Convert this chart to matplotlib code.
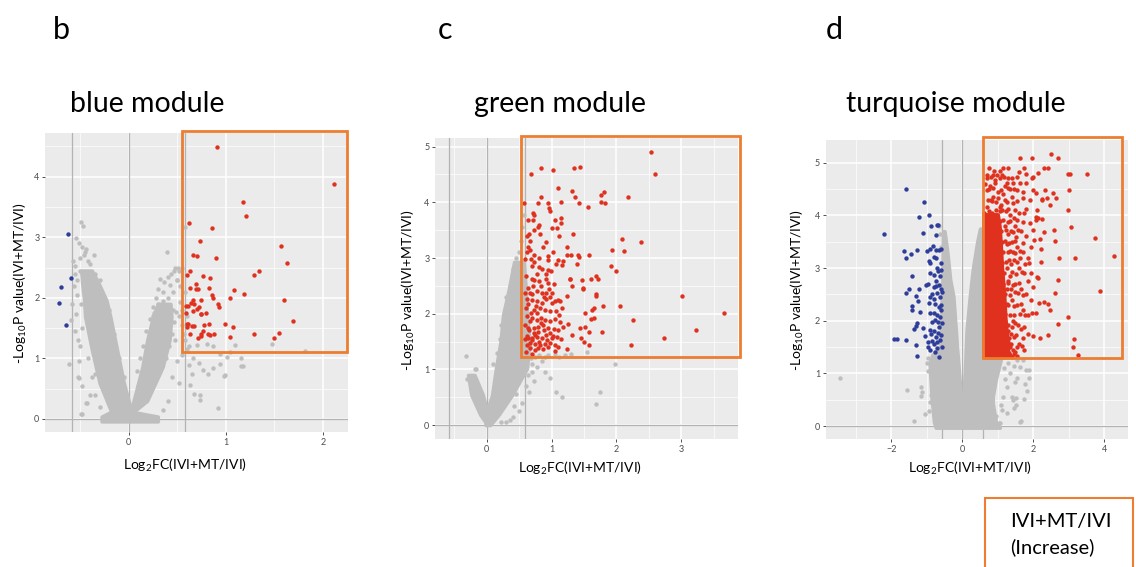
import matplotlib.pyplot as plt
from matplotlib.patches import Rectangle
import numpy as np

plt.rcParams['font.family'] = ['Lato', 'DejaVu Sans']
plt.rcParams['mathtext.fontset'] = 'custom'
plt.rcParams['mathtext.rm'] = 'Lato'

GREY = '#BEBEBE'
RED = '#E0301E'
BLUE = '#2E3D9A'
ORANGE = '#ED7D31'

# ---------------- panel b: blue module ----------------
b_red_x = [0.91, 2.12, 1.18, 1.21, 0.625, 0.855, 0.73, 1.57, 0.66, 0.70, 0.90, 1.63, 1.34, 0.63,
           1.29, 0.60, 0.77, 0.835, 0.63, 0.69, 0.69, 0.71, 0.83, 1.08, 1.19, 0.855, 0.87, 1.04,
           0.66, 0.74, 1.60, 0.92, 0.93, 0.59, 0.61, 0.67, 0.64, 0.72, 0.70, 0.66, 0.59, 0.74, 0.75,
           0.80, 1.69, 0.60, 0.61, 0.83, 0.78, 0.99, 0.65, 0.67, 0.60, 1.07, 0.77, 0.75, 0.75, 0.63,
           0.82, 0.84, 0.88, 0.71, 1.04, 1.29, 1.55, 1.50]
b_red_y = [4.49, 3.87, 3.58, 3.35, 3.23, 3.15, 2.93, 2.85, 2.71, 2.69, 2.65, 2.58, 2.44, 2.44,
           2.37, 2.37, 2.36, 2.32, 2.16, 2.22, 2.15, 2.14, 2.16, 2.13, 2.07, 2.04, 2.00, 2.00,
           1.97, 1.97, 1.96, 1.89, 1.84, 1.86, 1.87, 1.89, 1.91, 1.84, 1.81, 1.78, 1.75, 1.74, 1.74,
           1.75, 1.61, 1.57, 1.57, 1.56, 1.55, 1.56, 1.53, 1.53, 1.52, 1.52, 1.45, 1.41, 1.37, 1.41,
           1.41, 1.39, 1.41, 1.34, 1.36, 1.40, 1.42, 1.34]
b_blue_x = [-0.63, -0.59, -0.70, -0.72, -0.65]
b_blue_y = [3.05, 2.33, 2.17, 1.91, 1.55]
b_grey_x = [-0.49, -0.47, -0.54, -0.51, -0.48, -0.57, -0.55, -0.59, -0.62, -0.49, -0.44, -0.35,
            -0.51, -0.48, -0.43, -0.51, -0.52, -0.54, -0.46, -0.42, -0.50, -0.56, -0.53, -0.45,
            -0.58, -0.55, -0.50, -0.48, -0.40, -0.36, -0.40, -0.44, -0.50, -0.55, -0.53, -0.35,
            -0.30, -0.25, -0.20, -0.15, -0.10, -0.05, -0.48, -0.42, -0.38, -0.35, -0.30, -0.52,
            -0.49, -0.45,
            0.39, 0.48, 0.51, 0.55, 0.32, 0.36, 0.43, 0.46, 0.58, 0.58, 0.53, 0.49, 0.55, 0.70,
            0.81, 0.87, 0.94, 1.01, 1.10, 1.04, 1.16, 1.16, 1.48, 1.82, 0.72, 0.77, 0.82, 0.87,
            0.94, 0.62, 0.65, 0.63, 0.67, 0.73, 0.99, 0.92, 1.18, 0.98, 0.73, 0.58, 0.60, 0.55,
            0.50, 0.45, 0.52, 0.40, 0.35, 0.30, 0.25, 0.35, 0.42, 0.50, 0.60, 0.57, 0.62, 0.66,
            0.48, 0.44, 0.10, 0.20, 0.30, 0.38, 0.42, 0.45, 0.47, 0.46, 0.40, 0.35, 0.28, 0.25,
            0.22, 0.18, 0.15, 0.12, 0.09, 0.40, 0.44, 0.47, 0.52, 0.50, 0.53, 0.52, 0.55, 0.33,
            0.26, 0.38, 0.30]
b_grey_y = [3.25, 3.18, 2.99, 2.90, 2.84, 2.60, 2.52, 1.63, 0.90, 0.09, 0.26, 0.75,
            0.95, 0.09, 0.26, 0.67, 0.70, 1.74, 2.70, 2.60, 2.45, 2.20, 2.05, 2.75,
            1.90, 1.45, 1.20, 0.55, 0.40, 2.70, 2.55, 2.80, 2.65, 2.40, 2.30, 2.40,
            2.30, 2.00, 1.80, 1.40, 1.00, 0.70, 1.50, 1.00, 0.70, 0.40, 0.20, 1.30,
            1.90, 2.10,
            2.76, 2.49, 2.50, 2.49, 2.31, 2.26, 2.21, 2.10, 3.17, 2.10, 1.93, 1.77, 1.55, 1.22,
            1.24, 1.21, 1.08, 1.03, 1.22, 1.11, 1.00, 0.88, 1.23, 1.12, 0.93, 0.81, 0.75, 0.84,
            0.90, 0.89, 0.75, 0.56, 0.42, 0.31, 0.72, 0.18, 0.87, 0.71, 0.40, 1.30, 1.15, 1.05,
            0.95, 0.70, 0.60, 0.30, 0.15, 1.90, 1.70, 1.95, 1.85, 2.30, 1.70, 1.40, 1.20, 1.00,
            1.30, 1.60, 0.55, 0.70, 0.85, 1.00, 1.20, 1.40, 1.60, 1.80, 2.00, 2.10, 2.00, 1.85,
            1.65, 1.45, 1.20, 1.00, 0.80, 2.35, 2.40, 2.45, 2.45, 2.30, 2.20, 1.70, 1.80, 1.60,
            1.75, 1.25, 2.15]
# dense cloud outlines (y level, left edge, right edge)
b_arm1_y = [-0.04, 0.04, 0.12, 0.59, 1.14, 1.69, 1.96, 2.24, 2.45]
b_arm1_l = [-0.28, -0.28, -0.18, -0.30, -0.38, -0.45, -0.46, -0.48, -0.49]
b_arm1_r = [0.30, 0.30, 0.03, -0.05, -0.12, -0.19, -0.23, -0.31, -0.38]
b_arm2_y = [0.12, 0.30, 0.86, 1.30, 1.69, 1.90]
b_arm2_l = [0.02, 0.05, 0.14, 0.19, 0.25, 0.30]
b_arm2_r = [0.05, 0.19, 0.35, 0.42, 0.44, 0.43]

# ---------------- panel c: green module ----------------
c_red = [(2.53, 4.90), (2.59, 4.50), (0.84, 4.62), (1.02, 4.58), (1.34, 4.62), (1.43, 4.64),
         (0.68, 4.50), (1.10, 4.25), (1.32, 4.20), (0.83, 4.10), (1.81, 4.19), (1.76, 4.13),
         (2.18, 4.09), (1.36, 4.09), (0.58, 3.98), (0.79, 3.99), (0.94, 3.98), (1.15, 4.00),
         (1.42, 3.98), (1.76, 4.00), (1.83, 3.98), (1.56, 3.92), (0.96, 3.90), (0.98, 3.84),
         (0.71, 3.80), (0.73, 3.77), (0.64, 3.69), (0.71, 3.69), (1.05, 3.69), (1.15, 3.71),
         (1.15, 3.63), (1.09, 3.54), (0.81, 3.59), (0.79, 3.55), (1.01, 3.54), (0.65, 3.43),
         (0.62, 3.40), (0.82, 3.44), (1.11, 3.39), (1.33, 3.44), (2.08, 3.34), (2.38, 3.28),
         (0.91, 3.28), (0.63, 3.19), (0.67, 3.14), (0.62, 3.11), (1.23, 3.20), (1.93, 3.14),
         (2.11, 3.12), (1.58, 3.06), (1.40, 3.06), (1.42, 3.01), (0.59, 2.99), (0.68, 2.99),
         (0.73, 3.06), (0.73, 2.93), (0.95, 3.04), (0.94, 2.96), (1.06, 2.90), (1.18, 2.94),
         (1.16, 2.87), (1.10, 2.96), (1.30, 3.05), (1.24, 3.05), (1.39, 2.89), (1.92, 2.86),
         (1.99, 2.77), (0.80, 2.84), (0.85, 2.80), (0.95, 2.78), (0.99, 2.77), (0.69, 2.62),
         (0.73, 2.60), (0.80, 2.59), (0.78, 2.71), (0.91, 2.71), (0.92, 2.63), (1.03, 2.53),
         (0.94, 2.56), (1.28, 2.62), (1.29, 2.63), (1.47, 2.60), (1.49, 2.45), (1.48, 2.47),
         (1.60, 2.62), (1.69, 2.67), (1.72, 2.63), (1.32, 2.49), (1.68, 2.36), (1.68, 2.31),
         (0.64, 2.46), (0.71, 2.50), (0.59, 2.37), (0.67, 2.37), (0.77, 2.40), (0.85, 2.37),
         (0.92, 2.37), (1.00, 2.38), (1.24, 2.32), (1.10, 2.25), (1.13, 2.23), (0.62, 2.26),
         (0.69, 2.25), (0.77, 2.22), (0.85, 2.19), (0.92, 2.26), (1.00, 2.19), (1.05, 2.23),
         (1.16, 2.10), (0.61, 2.11), (0.72, 2.07), (0.82, 2.10), (0.90, 2.07), (0.97, 2.04),
         (0.77, 2.01), (1.65, 2.10), (1.63, 2.07), (1.61, 1.90), (1.66, 1.93), (2.06, 2.13),
         (1.79, 2.13), (1.51, 2.01), (2.25, 1.89), (0.62, 1.95), (0.66, 1.87), (0.70, 1.92),
         (0.77, 1.89), (0.84, 1.93), (0.90, 1.89), (0.97, 1.87), (1.05, 1.90), (1.13, 1.86),
         (0.87, 1.80), (0.79, 1.77), (0.72, 1.74), (0.64, 1.74), (0.59, 1.80), (0.95, 1.74),
         (1.03, 1.72), (1.10, 1.71), (1.18, 1.77), (1.25, 1.82), (1.44, 1.74), (1.51, 1.77),
         (1.57, 1.68), (1.78, 1.68), (1.46, 1.57), (1.50, 1.50), (1.58, 1.43), (1.32, 1.62),
         (0.62, 1.60), (0.69, 1.56), (0.77, 1.58), (0.85, 1.56), (0.92, 1.62), (1.00, 1.56),
         (1.08, 1.58), (1.15, 1.55), (0.67, 1.48), (0.74, 1.46), (0.82, 1.43), (0.90, 1.46),
         (0.97, 1.48), (1.05, 1.43), (1.10, 1.40), (0.62, 1.43), (0.67, 1.38), (0.74, 1.35),
         (0.87, 1.36), (0.72, 1.65), (0.79, 1.68), (0.59, 1.54), (0.64, 1.57), (1.05, 1.33),
         (1.23, 1.36), (2.73, 1.57), (3.01, 2.31), (3.22, 1.71), (3.66, 2.02), (2.22, 1.44),
         (0.60, 1.32), (0.65, 1.70), (0.70, 1.52), (0.75, 1.62), (0.80, 1.50), (0.88, 1.70),
         (0.93, 1.52), (0.98, 1.66), (0.83, 1.84), (0.68, 2.02), (0.76, 2.14), (0.88, 2.30),
         (0.64, 2.18), (0.70, 2.35), (0.84, 2.50), (0.96, 2.45), (0.61, 2.68), (0.70, 2.85),
         (0.80, 3.00), (0.66, 3.30), (0.73, 3.50), (0.86, 3.20), (1.02, 3.10), (0.97, 2.30),
         (1.07, 2.05), (1.12, 1.98), (1.02, 1.60), (0.79, 1.38), (0.94, 1.40), (0.69, 1.28)]
c_red_x = [p[0] for p in c_red]
c_red_y = [p[1] for p in c_red]
c_grey_x = [-0.32, -0.19, -0.28, -0.30, -0.25, -0.20, -0.16, -0.22, 1.07, 1.16, 1.74, 1.68,
            1.97, 1.54, 1.12, 0.85, 0.90, 0.95, 0.78, 0.70, 0.72, 0.60, 0.55, 0.50, 0.35, 0.30,
            0.22, 0.45, 0.40, 0.50, 0.57, 0.55, 0.52, 0.35, 0.30, 0.28, 0.22, 0.20, 0.16, 0.10,
            0.80, 0.75, 0.68, 0.90, 0.98, 0.65, 0.40, 1.05, 1.20, 1.30, 0.45, 0.38, 0.25, 0.66,
            0.70, 0.64, 0.45, 0.48, 0.42, 0.12, 0.18, 0.05, -0.12, -0.08]
c_grey_y = [1.24, 1.01, 0.88, 0.82, 0.70, 0.62, 1.00, 0.78, 0.59, 0.51, 0.60, 0.37,
            1.10, 1.31, 1.23, 1.15, 1.22, 1.25, 1.05, 0.95, 0.80, 0.70, 0.40, 0.25, 0.10, 0.05,
            0.05, 3.00, 2.80, 3.10, 3.77, 3.55, 3.30, 2.50, 2.30, 2.05, 1.80, 1.55, 1.30, 1.10,
            1.25, 1.22, 1.20, 0.95, 0.85, 0.60, 0.15, 1.28, 1.25, 1.27, 2.60, 2.35, 1.70, 1.40,
            1.10, 0.90, 0.55, 0.75, 0.35, 0.70, 0.40, 0.35, 0.40, 0.25]
c_arm1_y = [0.05, 0.18, 0.54, 0.90]
c_arm1_l = [-0.02, -0.10, -0.24, -0.29]
c_arm1_r = [0.02, 0.02, -0.06, -0.19]
c_arm2_y = [0.00, 0.18, 0.54, 1.02, 1.50, 1.98, 2.45, 2.93]
c_arm2_l = [-0.02, -0.02, 0.08, 0.14, 0.21, 0.25, 0.34, 0.42]
c_arm2_r = [0.05, 0.18, 0.39, 0.62, 0.66, 0.62, 0.60, 0.57]

# ---------------- panel d: turquoise module ----------------
d_red = [(1.63, 5.09), (1.96, 5.09), (2.49, 5.17), (2.69, 5.09), (1.15, 4.90), (1.28, 4.90),
         (1.74, 4.90), (2.31, 4.90), (2.43, 4.90), (2.98, 4.78), (3.03, 4.78), (3.51, 4.78),
         (2.14, 4.81), (2.00, 4.72), (1.81, 4.78), (1.59, 4.83), (3.01, 4.49), (2.56, 4.43),
         (2.64, 4.33), (2.32, 4.48), (2.47, 4.20), (2.26, 4.31), (2.97, 4.10), (3.07, 3.77),
         (3.73, 3.57), (2.59, 3.72), (2.60, 3.52), (2.72, 3.20), (3.19, 3.20), (4.28, 3.23),
         (2.21, 3.12), (2.70, 2.77), (3.87, 2.56), (2.60, 2.53), (2.97, 2.08), (2.69, 1.94),
         (3.15, 1.65), (3.11, 1.50), (3.26, 1.35), (2.41, 1.73), (2.18, 1.67), (2.00, 1.71),
         (1.85, 1.75), (2.47, 2.20), (2.41, 2.31), (2.29, 2.36), (2.17, 2.34), (1.97, 2.15),
         (2.08, 2.15), (2.10, 2.83), (2.14, 2.82), (2.00, 2.64), (1.93, 2.91), (1.89, 3.10),
         (2.21, 3.37), (2.19, 3.56), (2.30, 3.69), (2.02, 3.54), (2.00, 3.72), (2.08, 3.96),
         (2.25, 3.93), (2.10, 4.10), (0.69, 4.77), (0.87, 4.77), (0.97, 4.77), (1.12, 4.77),
         (1.06, 4.70), (1.25, 4.61), (1.44, 4.62), (1.81, 4.62), (1.63, 4.62), (1.96, 4.70),
         (1.53, 4.48), (2.00, 4.48), (2.09, 4.42), (1.72, 4.32), (1.91, 4.29), (2.24, 4.30),
         (2.38, 4.32), (1.25, 4.26), (1.06, 4.16), (1.44, 4.23), (0.69, 4.48), (0.87, 4.35),
         (0.69, 4.16), (1.81, 4.13), (2.09, 3.91), (2.13, 3.95), (0.78, 4.55), (0.92, 4.62),
         (1.02, 4.45), (1.15, 4.40), (1.35, 4.50), (0.80, 4.30), (0.95, 4.25), (0.75, 4.90),
         (0.90, 4.85), (1.05, 4.85), (1.20, 4.55), (1.30, 4.70), (0.65, 4.60), (1.55, 4.72),
         (1.70, 4.45), (1.40, 4.35), (1.10, 4.20), (1.35, 3.90), (1.50, 3.80), (1.65, 3.70),
         (1.80, 3.60), (1.40, 3.50), (1.55, 3.40), (1.70, 3.30), (1.85, 3.20), (1.30, 3.30),
         (1.45, 3.15), (1.60, 3.00), (1.75, 2.90), (1.35, 2.85), (1.50, 2.70), (1.65, 2.60),
         (1.80, 2.50), (1.25, 2.60), (1.40, 2.40), (1.55, 2.30), (1.70, 2.20), (1.85, 2.10),
         (1.35, 2.10), (1.50, 1.95), (1.65, 1.85), (1.30, 1.80), (1.45, 1.70), (1.60, 1.55),
         (1.75, 1.45), (1.35, 1.50), (1.50, 1.40), (1.40, 1.32), (1.25, 1.40), (1.30, 2.30),
         (1.25, 3.00), (1.28, 3.65), (1.20, 3.80), (1.45, 3.95), (1.60, 4.05), (1.75, 4.05),
         (1.90, 3.85), (1.95, 3.40), (1.85, 2.75), (1.95, 2.40), (1.20, 2.00), (1.30, 1.60),
         (1.48, 2.55), (1.62, 3.20), (1.38, 3.70), (1.32, 3.15), (1.38, 2.60), (1.42, 2.00),
         (1.36, 1.75), (1.30, 2.75), (1.26, 3.45), (1.34, 4.00), (1.22, 4.08), (1.12, 4.10),
         (1.42, 1.45), (1.33, 1.38), (1.44, 3.30), (1.52, 3.58),
         (1.35, 1.35), (1.45, 1.36), (1.55, 1.34), (1.15, 1.50), (1.25, 1.52), (1.38, 1.55),
         (1.55, 1.50), (1.68, 1.52), (1.18, 1.70), (1.32, 1.68), (1.52, 1.72), (1.70, 1.68),
         (1.15, 1.90), (1.28, 1.92), (1.40, 1.88), (1.58, 1.92), (1.75, 1.88), (1.20, 2.12),
         (1.45, 2.10), (1.62, 2.12), (1.78, 2.10), (1.15, 2.30), (1.25, 2.32), (1.47, 2.28),
         (1.65, 2.32), (1.20, 2.50), (1.35, 2.48), (1.58, 2.52), (1.72, 2.48), (1.15, 2.70),
         (1.28, 2.72), (1.42, 2.68), (1.60, 2.72), (1.18, 2.90), (1.40, 2.92), (1.52, 2.88),
         (1.68, 2.92), (1.12, 3.10), (1.22, 3.12), (1.38, 3.08), (1.55, 3.12), (1.78, 3.08),
         (1.15, 3.30), (1.35, 3.32), (1.50, 3.28), (1.62, 3.32), (1.12, 3.50), (1.20, 3.52),
         (1.32, 3.48), (1.48, 3.52), (1.70, 3.48), (1.10, 3.70), (1.22, 3.72), (1.42, 3.68),
         (1.58, 3.72), (1.05, 3.90), (1.15, 3.92), (1.28, 3.88), (1.55, 3.92), (1.70, 3.88),
         (0.95, 4.10), (1.05, 4.08), (1.30, 4.12), (1.50, 4.10), (0.72, 4.30), (0.85, 4.28),
         (1.00, 4.32), (1.20, 4.30), (1.55, 4.28), (0.75, 4.50), (0.88, 4.52), (1.10, 4.48),
         (1.28, 4.52), (1.45, 4.50), (0.70, 4.70), (0.80, 4.72), (0.92, 4.68), (1.18, 4.72),
         (1.40, 4.70), (0.62, 4.05), (0.75, 4.08), (0.85, 4.05)]
d_red_x = [p[0] for p in d_red]
d_red_y = [p[1] for p in d_red]
d_red_core_y = [1.31, 1.60, 2.00, 2.50, 3.00, 3.50, 3.80, 4.02]
d_red_core_r = [1.30, 1.28, 1.22, 1.18, 1.12, 1.08, 1.05, 1.00]
d_blue = [(-1.59, 4.50), (-1.07, 4.25), (-1.22, 3.97), (-0.94, 4.01), (-0.88, 3.79), (-0.72, 3.81),
          (-0.69, 3.81), (-2.21, 3.65), (-1.12, 3.66), (-0.75, 3.62), (-1.65, 3.32), (-1.45, 3.27),
          (-1.60, 3.19), (-1.27, 3.35), (-0.99, 3.33), (-0.91, 3.36), (-0.83, 3.42), (-0.74, 3.34),
          (-0.66, 3.35), (-0.59, 3.36), (-0.81, 3.21), (-0.74, 3.20), (-0.93, 3.14), (-0.90, 3.09),
          (-0.72, 3.01), (-0.68, 2.94), (-0.61, 2.97), (-0.79, 2.87), (-0.91, 2.90), (-1.42, 2.84),
          (-1.02, 2.68), (-0.98, 2.70), (-0.81, 2.64), (-0.74, 2.66), (-0.66, 2.68), (-0.61, 2.61),
          (-1.49, 2.60), (-1.22, 2.60), (-1.59, 2.52), (-1.31, 2.47), (-1.26, 2.38), (-1.42, 2.28),
          (-1.43, 2.21), (-1.20, 2.16), (-0.91, 2.45), (-0.81, 2.42), (-0.70, 2.52), (-0.62, 2.45),
          (-0.57, 2.55), (-0.93, 2.33), (-0.78, 2.32), (-0.67, 2.27), (-0.61, 2.20), (-0.91, 2.15),
          (-0.81, 2.14), (-0.72, 2.11), (-0.62, 2.08), (-0.86, 1.98), (-0.77, 2.01), (-0.68, 1.98),
          (-0.58, 1.95), (-1.29, 1.96), (-1.31, 1.90), (-1.37, 1.84), (-1.10, 1.87), (-1.04, 1.71),
          (-0.91, 1.83), (-0.81, 1.80), (-0.68, 1.77), (-0.61, 1.73), (-0.89, 1.74), (-0.74, 1.70),
          (-0.64, 1.63), (-0.96, 1.60), (-0.81, 1.56), (-0.72, 1.60), (-1.92, 1.65), (-1.83, 1.65),
          (-1.59, 1.64), (-1.30, 1.54), (-1.27, 1.34), (-0.97, 1.50), (-0.91, 1.45), (-0.77, 1.41),
          (-0.66, 1.32), (-0.58, 1.50), (-0.70, 1.48), (-0.60, 2.30), (-0.63, 2.85), (-0.60, 3.10),
          (-0.85, 2.50), (-0.75, 2.75), (-0.65, 1.88), (-0.84, 1.62)]
d_blue_x = [p[0] for p in d_blue]
d_blue_y = [p[1] for p in d_blue]
d_grey_x = [-3.46, -1.57, -1.36, -1.17, -1.17, -1.14, -1.04, -0.95, -0.98, -0.89, -0.80, -0.66,
            -0.72, -0.85, -0.88, -0.92, 1.04, 1.65, 1.45, 1.52, 1.75, 1.06, 1.64, 1.39, 1.16,
            1.42, 1.51, 1.25, 1.83, 1.77, 1.89, 1.81, 1.53, 1.34, 1.63, 1.72, 1.89, 1.48, 1.30,
            1.45, 1.20, 1.25, 1.10, 0.95, 1.55, -0.65, -0.62, -0.60, -1.00, -0.96, 1.12, 1.18]
d_grey_y = [0.92, 0.69, 0.10, 0.74, 0.57, 0.65, 0.23, 0.29, 1.05, 1.06, 0.69, 0.12,
            0.15, 0.90, 0.60, 0.45, 0.05, 0.09, 0.35, 0.54, 0.51, 0.05, 0.08, 0.56, 0.56,
            0.49, 0.40, 0.24, 0.67, 0.79, 0.92, 1.06, 0.92, 1.00, 1.13, 1.25, 1.07, 0.84, 1.20,
            1.15, 0.90, 0.75, 0.40, 0.20, 1.25, 3.80, 3.65, 3.40, 1.20, 1.30, 0.30, 1.10]
d_arm1_y = [-0.03, 0.08, 0.43, 0.56, 1.19, 1.35, 1.50, 1.82, 2.46, 2.78, 3.30, 3.70]
d_arm1_l = [-0.75, -0.80, -0.85, -0.87, -0.92, -0.85, -0.62, -0.60, -0.58, -0.56, -0.55, -0.54]
d_arm1_r = [0.00, 0.00, -0.01, -0.04, -0.11, -0.13, -0.15, -0.18, -0.25, -0.34, -0.42, -0.50]
d_arm2_y = [-0.03, 0.08, 0.43, 0.56, 0.90, 1.19, 1.30, 1.35, 1.82, 2.46, 3.00, 3.50, 3.75]
d_arm2_l = [0.00, 0.00, 0.01, 0.04, 0.06, 0.08, 0.09, 0.09, 0.12, 0.21, 0.30, 0.42, 0.50]
d_arm2_r = [1.06, 0.95, 0.86, 0.86, 0.95, 1.06, 1.10, 0.60, 0.60, 0.60, 0.60, 0.60, 0.58]


def setup(ax, xlim, ylim, xmaj, xmin, ymaj, ymin):
    ax.set_facecolor('#EBEBEB')
    for s in ax.spines.values():
        s.set_visible(False)
    ax.set_xlim(xlim)
    ax.set_ylim(ylim)
    ax.set_xticks(xmaj)
    ax.set_xticks(xmin, minor=True)
    ax.set_yticks(ymaj)
    ax.set_yticks(ymin, minor=True)
    ax.grid(True, which='major', color='white', lw=1.1, zorder=0)
    ax.grid(True, which='minor', color='white', lw=0.5, zorder=0)
    ax.set_axisbelow(True)
    ax.tick_params(which='major', length=2, width=0.6, color='#333333',
                   labelsize=6.5, labelcolor='#4D4D4D', pad=2)
    ax.tick_params(which='minor', length=0)
    for v in (-0.585, 0, 0.585):
        ax.axvline(v, color='#B3B3B3', lw=0.9, zorder=1)
    ax.axhline(0, color='#B3B3B3', lw=0.9, zorder=1)


def cloud(ax, ys, ls, rs, color, z=2):
    # dense core of overlapping points, drawn as its outline
    ax.fill_betweenx(ys, ls, rs, facecolor=color, edgecolor=color, lw=2.5,
                     joinstyle='round', zorder=z)


fig = plt.figure(figsize=(11.36, 5.67), dpi=100)
W, H = 1136, 567

def add_axes(l, t, r, b):
    return fig.add_axes([l / W, 1 - b / H, (r - l) / W, (b - t) / H])

S = 10
ylab = r'-Log$_{10}$P value(IVI+MT/IVI)'
xlab = r'Log$_{2}$FC(IVI+MT/IVI)'

# b
ax = add_axes(45, 133, 348, 432)
setup(ax, (-0.863, 2.26), (-0.215, 4.72), [0, 1, 2], [-0.5, 0.5, 1.5],
      [0, 1, 2, 3, 4], [0.5, 1.5, 2.5, 3.5, 4.5])
cloud(ax, b_arm1_y, b_arm1_l, b_arm1_r, GREY)
cloud(ax, b_arm2_y, b_arm2_l, b_arm2_r, GREY)
ax.scatter(b_grey_x, b_grey_y, s=S, c=GREY, lw=0, zorder=3)
ax.scatter(b_red_x, b_red_y, s=S, c=RED, lw=0, zorder=4)
ax.scatter(b_blue_x, b_blue_y, s=S, c=BLUE, lw=0, zorder=4)
ax.add_patch(Rectangle((0.55, 1.11), 1.695, 3.64, fill=False, ec=ORANGE, lw=2,
                       clip_on=False, zorder=10))

# c
ax = add_axes(435, 138.3, 738.3, 439)
setup(ax, (-0.80, 3.88), (-0.25, 5.15), [0, 1, 2, 3], [-0.5, 0.5, 1.5, 2.5, 3.5],
      [0, 1, 2, 3, 4, 5], [0.5, 1.5, 2.5, 3.5, 4.5])
cloud(ax, c_arm1_y, c_arm1_l, c_arm1_r, GREY)
cloud(ax, c_arm2_y, c_arm2_l, c_arm2_r, GREY)
ax.scatter(c_grey_x, c_grey_y, s=S, c=GREY, lw=0, zorder=3)
ax.scatter(c_red_x, c_red_y, s=S, c=RED, lw=0, zorder=4)
ax.add_patch(Rectangle((0.525, 1.23), 3.385, 3.96, fill=False, ec=ORANGE, lw=2,
                       clip_on=False, zorder=10))

# d
ax = add_axes(825.7, 140, 1128.3, 439.3)
setup(ax, (-3.85, 4.68), (-0.25, 5.43), [-2, 0, 2, 4], [-3, -1, 1, 3],
      [0, 1, 2, 3, 4, 5], [0.5, 1.5, 2.5, 3.5, 4.5])
cloud(ax, d_arm1_y, d_arm1_l, d_arm1_r, GREY)
cloud(ax, d_arm2_y, d_arm2_l, d_arm2_r, GREY)
ax.scatter(d_grey_x, d_grey_y, s=S, c=GREY, lw=0, zorder=3)
cloud(ax, d_red_core_y, [0.60] * len(d_red_core_y), d_red_core_r, RED, z=4)
ax.scatter(d_red_x, d_red_y, s=S, c=RED, lw=0, zorder=4)
ax.scatter(d_blue_x, d_blue_y, s=S, c=BLUE, lw=0, zorder=4)
ax.add_patch(Rectangle((0.575, 1.29), 3.915, 4.2, fill=False, ec=ORANGE, lw=2,
                       clip_on=False, zorder=10))

# texts (figure pixels)
def ftext(x, y, s, **kw):
    fig.text(x / W, 1 - y / H, s, **kw)

for x, s in [(53, 'b'), (438, 'c'), (826, 'd')]:
    ftext(x, 30, s, fontsize=22, va='center', ha='left')
for x, s in [(70, 'blue module'), (474, 'green module'), (846, 'turquoise module')]:
    ftext(x, 104, s, fontsize=20.5, va='center', ha='left')
for x, y in [(20, 283), (408, 290), (797, 290)]:
    ftext(x, y, ylab, fontsize=10, rotation=90, va='center', ha='center')
for x, y in [(185, 465), (580, 468), (970, 468)]:
    ftext(x, y, xlab, fontsize=10, va='center', ha='center')

fig.patches.append(Rectangle((985 / W, -0.01), 148 / W, (567 - 498) / H + 0.01,
                             transform=fig.transFigure, fill=False, ec=ORANGE, lw=1.5))
ftext(1010, 522, 'IVI+MT/IVI', fontsize=14.5, va='center', ha='left')
ftext(1010, 547, '(Increase)', fontsize=14.5, va='center', ha='left')

fig.savefig('out.png', dpi=100)
